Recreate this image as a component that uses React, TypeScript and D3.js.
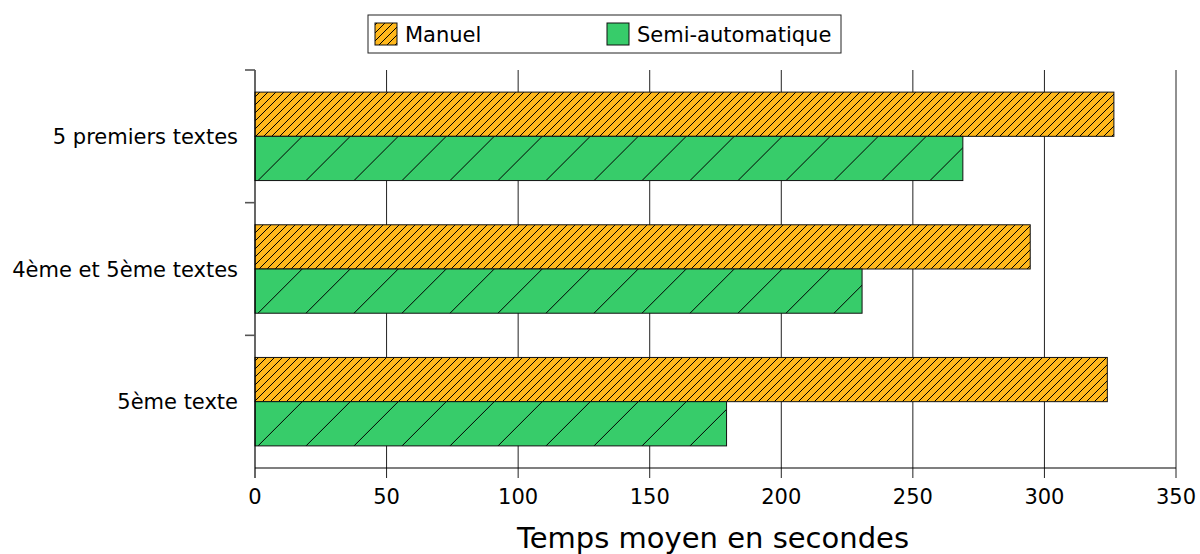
import React from "react";
import * as d3 from "d3";

const categories = ["5 premiers textes", "4ème et 5ème textes", "5ème texte"];
const series = ["Manuel", "Semi-automatique"];
const manuelValues = [326.4, 294.6, 323.9];
const semiValues = [269.0, 230.7, 179.2];
const xTicks = [0, 50, 100, 150, 200, 250, 300, 350];
const xTitle = "Temps moyen en secondes";

const W = 1200;
const H = 554;
const FONT = "DejaVu Sans, sans-serif";
const ORANGE = "#FFB81C";
const GREEN = "#37CC6A";

export default function App() {
  const x = d3.scaleLinear().domain([0, 350]).range([255, 1176]);
  const y = d3.scaleBand<string>().domain(categories).range([70, 468]).paddingInner(0).paddingOuter(0);
  const bw = y.bandwidth();
  const inner = d3.scaleBand<string>().domain(series).range([bw / 6, bw - bw / 6]).padding(0);
  const valuesBySeries = [manuelValues, semiValues];
  const bottom = 468;
  const top = 70;

  return (
    <svg width={W} height={H} style={{ position: "absolute", left: 0, top: 0, background: "#fff" }} fontFamily={FONT}>
      <defs>
        <pattern id="hatchOrange" patternUnits="userSpaceOnUse" width={8} height={8}>
          <rect width={8} height={8} fill={ORANGE} />
          <path d="M0,8 L8,0 M-2,2 L2,-2 M6,10 L10,6" stroke="#000" strokeWidth={1} />
        </pattern>
        {categories.map((c, i) => {
          const yb = (y(c) as number) + (inner("Semi-automatique") as number) + inner.bandwidth();
          return (
            <pattern key={c} id={`hatchGreen${i}`} patternUnits="userSpaceOnUse" width={48} height={48} x={x(0) + 3} y={yb}>
              <rect width={48} height={48} fill={GREEN} />
              <path d="M0,48 L48,0 M-4,4 L4,-4 M44,52 L52,44" stroke="#000" strokeWidth={1} />
            </pattern>
          );
        })}
      </defs>

      {/* vertical gridlines */}
      {xTicks.slice(1).map((t) => (
        <line key={t} x1={x(t)} x2={x(t)} y1={top} y2={bottom + 10} stroke="#222" strokeWidth={1} />
      ))}

      {/* bars */}
      {categories.map((c, i) =>
        series.map((s, j) => {
          const v = valuesBySeries[j][i];
          const yy = (y(c) as number) + (inner(s) as number);
          return (
            <rect
              key={c + s}
              x={x(0)}
              y={yy}
              width={x(v) - x(0)}
              height={inner.bandwidth()}
              fill={j === 0 ? "url(#hatchOrange)" : `url(#hatchGreen${i})`}
              stroke="#111"
              strokeWidth={1}
            />
          );
        })
      )}

      {/* axes */}
      <line x1={x(0)} x2={x(0)} y1={top} y2={bottom + 10} stroke="#000" strokeWidth={1.2} />
      <line x1={x(0)} x2={x(350)} y1={bottom} y2={bottom} stroke="#000" strokeWidth={1.2} />
      {categories.map((c) => (
        <line key={c} x1={x(0) - 10} x2={x(0)} y1={y(c) as number} y2={y(c) as number} stroke="#555" strokeWidth={1.6} />
      ))}

      {/* x tick labels */}
      {xTicks.map((t) => (
        <text key={t} x={x(t)} y={504} textAnchor="middle" fontSize={21} fill="#000">
          {t}
        </text>
      ))}
      <text x={713} y={548} textAnchor="middle" fontSize={29} fill="#000">
        {xTitle}
      </text>

      {/* category labels */}
      {categories.map((c) => (
        <text key={c} x={238} y={(y(c) as number) + bw / 2 + 7.5} textAnchor="end" fontSize={21} fill="#000">
          {c}
        </text>
      ))}

      {/* legend */}
      <rect x={368} y={15} width={473} height={38} fill="#fff" stroke="#222" strokeWidth={1} />
      <rect x={375} y={23} width={22} height={22} fill="url(#hatchOrange)" stroke="#111" strokeWidth={1} />
      <text x={405} y={42} fontSize={21} fill="#000">{series[0]}</text>
      <rect x={607} y={23} width={22} height={22} fill={GREEN} stroke="#111" strokeWidth={1} />
      <text x={637} y={42} fontSize={21} fill="#000">{series[1]}</text>
    </svg>
  );
}
